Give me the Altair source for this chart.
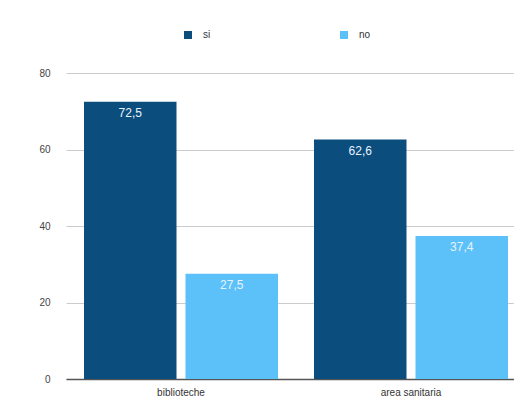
import altair as alt
import pandas as pd

categories = ["biblioteche", "biblioteche", "area sanitaria", "area sanitaria"]
series = ["si", "no", "si", "no"]
values = [72.5, 27.5, 62.6, 37.4]
labels = ["72,5", "27,5", "62,6", "37,4"]

df = pd.DataFrame({"cat": categories, "serie": series, "val": values, "lab": labels})

cat_order = ["biblioteche", "area sanitaria"]
ser_order = ["si", "no"]
colors = ["#0b4d7c", "#5cc1f8"]

FONT = "Liberation Sans"

x = alt.X("cat:N", sort=cat_order, title=None,
          scale=alt.Scale(paddingInner=0.1565, paddingOuter=0.0522, align=0.75),
          axis=alt.Axis(labelAngle=0, ticks=False, labelPadding=8, labelFontSize=10,
                        labelColor="#333333", labelFont=FONT, domainColor="#555555",
                        domainWidth=1.5, grid=False))
xo = alt.XOffset("serie:N", sort=ser_order,
                 scale=alt.Scale(paddingInner=0.0887, paddingOuter=0))

bars = alt.Chart(df).mark_bar().encode(
    x=x,
    xOffset=xo,
    y=alt.Y("val:Q", title=None, scale=alt.Scale(domain=[0, 80], nice=False),
            axis=alt.Axis(values=[0, 20, 40, 60, 80], ticks=False, domain=False,
                          labelPadding=16, labelFontSize=10, labelColor="#444444",
                          labelFont=FONT, gridColor="#cccccc", gridWidth=1)),
    color=alt.Color("serie:N", sort=ser_order,
                    scale=alt.Scale(domain=ser_order, range=colors),
                    legend=alt.Legend(title=None, orient="none", direction="horizontal",
                                      legendX=117, legendY=-43, symbolType="square",
                                      symbolSize=64, symbolStrokeWidth=0,
                                      columnPadding=128, labelFontSize=10,
                                      labelColor="#333333", labelFont=FONT,
                                      labelOffset=10)),
)

text = alt.Chart(df).mark_text(baseline="middle", dy=11, fontSize=12, font=FONT,
                               color="#e8f4ff").encode(
    x=alt.X("cat:N", sort=cat_order),
    xOffset=alt.XOffset("serie:N", sort=ser_order),
    y="val:Q",
    text="lab:N",
)

chart = alt.layer(bars, text).properties(
    width=448, height=306,
    autosize=alt.AutoSizeParams(type="none"),
    padding={"left": 58, "top": 65, "right": 0, "bottom": 20},
    background="white",
).configure_view(stroke=None)

chart.save("out.html", embed_options={"renderer": "svg", "actions": False})
